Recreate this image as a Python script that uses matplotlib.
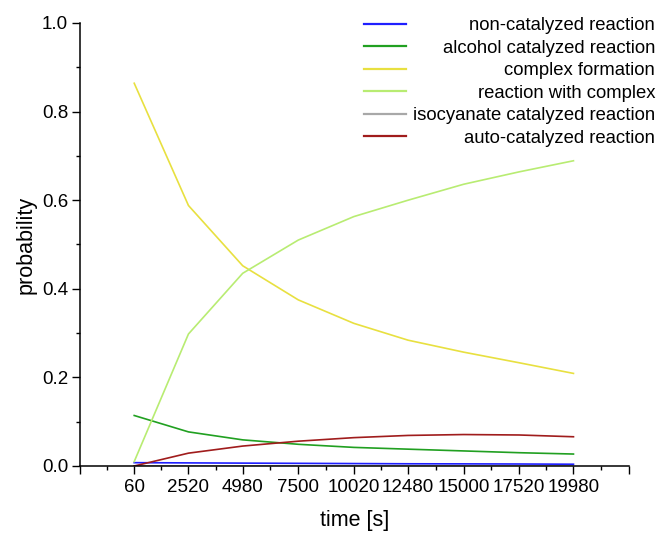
import numpy as np
import matplotlib
matplotlib.use("Agg")
import matplotlib.pyplot as plt

plt.rcParams['font.family'] = ['Liberation Sans', 'DejaVu Sans']

# sampling times [s]
time = [60, 2520, 4980, 7500, 10020, 12480, 15000, 17520, 19980]

# reaction channel probabilities
non_catalyzed = [0.0075, 0.0070, 0.0065, 0.0060, 0.0055, 0.0050, 0.0048, 0.0045, 0.0040]
alcohol_catalyzed = [0.114, 0.077, 0.059, 0.049, 0.042, 0.038, 0.034, 0.030, 0.027]
complex_formation = [0.864, 0.588, 0.452, 0.375, 0.322, 0.284, 0.257, 0.233, 0.209]
reaction_with_complex = [0.010, 0.298, 0.435, 0.510, 0.563, 0.600, 0.636, 0.664, 0.689]
isocyanate_catalyzed = [0.0005, 0.0005, 0.0005, 0.0005, 0.0005, 0.0005, 0.0005, 0.0005, 0.0005]
auto_catalyzed = [0.000, 0.029, 0.045, 0.056, 0.064, 0.069, 0.071, 0.070, 0.066]

series = [
    ("non-catalyzed reaction", non_catalyzed, "#1f1fff"),
    ("alcohol catalyzed reaction", alcohol_catalyzed, "#21a021"),
    ("complex formation", complex_formation, "#e8e040"),
    ("reaction with complex", reaction_with_complex, "#b8ec72"),
    ("isocyanate catalyzed reaction", isocyanate_catalyzed, "#a8a8a8"),
    ("auto-catalyzed reaction", auto_catalyzed, "#a01c1c"),
]

fig = plt.figure(figsize=(6.62, 5.36), dpi=100)
ax = fig.add_axes([0.1208, 0.1306, 0.8294, 0.8265])

for label, vals, color in series:
    ax.plot(time, vals, color=color, lw=1.2, label=label)

# axis range: one empty tick interval on each side of the data
x_left, x_right = -2400, 22500
ax.set_xlim(x_left, x_right)
ax.set_ylim(0, 1.0)

major_x = np.array([x_left] + time + [x_right])
ax.set_xticks(major_x)
ax.set_xticklabels([""] + [str(t) for t in time] + [""])
ax.set_xticks((major_x[:-1] + major_x[1:]) / 2, minor=True)

ax.set_yticks(np.arange(0, 1.01, 0.2))
ax.set_yticklabels([f"{v:.1f}" for v in np.arange(0, 1.01, 0.2)])
ax.set_yticks(np.arange(0.1, 1.0, 0.2), minor=True)

for side in ("top", "right"):
    ax.spines[side].set_visible(False)
for side in ("left", "bottom"):
    ax.spines[side].set_linewidth(1.1)

ax.tick_params(which="major", direction="out", length=5.5, width=1.0,
               labelsize=13.5, pad=4)
ax.tick_params(which="minor", direction="out", length=3.2, width=1.0)
ax.tick_params(axis="y", pad=3)

ax.set_xlabel("time [s]", fontsize=15.5, labelpad=10)
ax.set_ylabel("probability", fontsize=15.5, labelpad=4)

leg = fig.legend(loc="upper right", bbox_to_anchor=(655 / 662, 1 - 17 / 536),
                 frameon=False, fontsize=13.3, handlelength=2.3,
                 handletextpad=0.35, labelspacing=0.3, borderpad=0,
                 borderaxespad=0)
for line in leg.get_lines():
    line.set_linewidth(1.6)

# right-align the legend labels inside the legend column
fig.canvas.draw()
renderer = fig.canvas.get_renderer()
widths = [t.get_window_extent(renderer).width for t in leg.get_texts()]
maxw = max(widths)
for t, w in zip(leg.get_texts(), widths):
    t.set_position((maxw - w, 0))

fig.savefig("out.png", dpi=100)
